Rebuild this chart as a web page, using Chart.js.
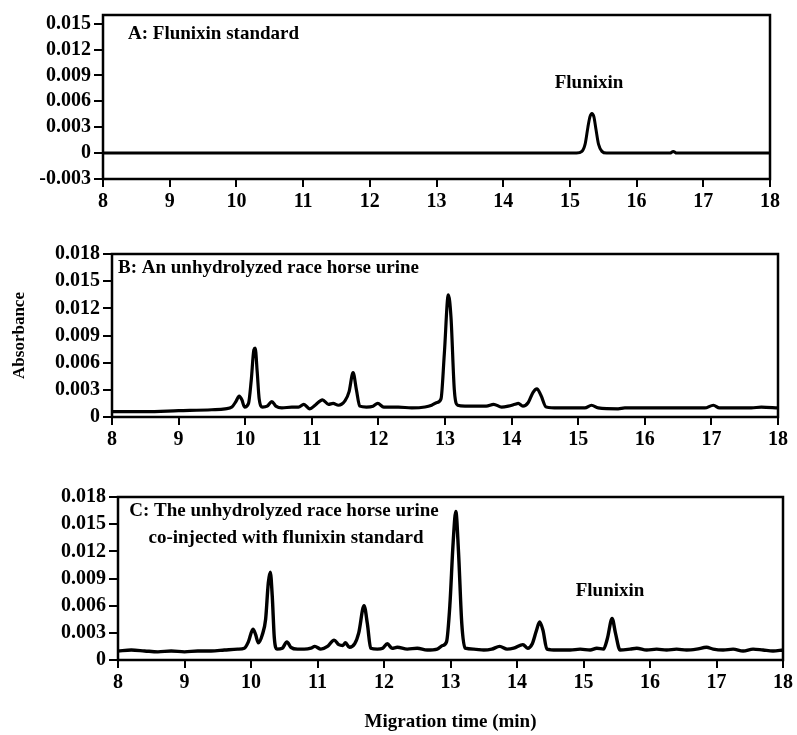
<!DOCTYPE html>
<html><head><meta charset="utf-8">
<script src="https://cdn.jsdelivr.net/npm/chart.js@4.4.0/dist/chart.umd.min.js"></script>
<style>
html,body{margin:0;padding:0;background:#fff;}
#wrap{position:relative;width:797px;height:735px;background:#fff;overflow:hidden;}
canvas{position:absolute;left:0;}
</style></head><body>
<div id="wrap">
<canvas id="cA" width="797" height="220" style="top:0px"></canvas>
<canvas id="cB" width="797" height="240" style="top:230px"></canvas>
<canvas id="cC" width="797" height="265" style="top:470px"></canvas>
</div>
<script>
// ---------- tick values / labels ----------
const xTicks = [8, 9, 10, 11, 12, 13, 14, 15, 16, 17, 18];
const yTicksA = [-0.003, 0, 0.003, 0.006, 0.009, 0.012, 0.015];
const yTickLabelsA = ['-0.003', '0', '0.003', '0.006', '0.009', '0.012', '0.015'];
const yTicksBC = [0, 0.003, 0.006, 0.009, 0.012, 0.015, 0.018];
const yTickLabelsBC = ['0', '0.003', '0.006', '0.009', '0.012', '0.015', '0.018'];

// ---------- A: Flunixin standard ----------
const timeA = [8, 9, 10, 11, 12, 13, 14, 14.8, 15.1, 15.18, 15.23, 15.27, 15.30, 15.33, 15.36, 15.39, 15.43, 15.48, 15.55, 16, 16.5, 16.55, 16.6, 17, 18];
const absA  = [0, 0, 0, 0, 0, 0, 0, 0, 0, 0.0002, 0.0011, 0.0030, 0.0042, 0.0046, 0.0042, 0.0028, 0.0010, 0.0002, 0, 0, 0, 0.0002, 0, 0, 0];

// ---------- B: unhydrolyzed race horse urine ----------
const timeB = [8.0, 8.5, 9.0, 9.5, 9.7, 9.8, 9.86, 9.91, 9.95, 9.99, 10.05, 10.09, 10.13, 10.15, 10.18, 10.21, 10.26, 10.33, 10.40, 10.46, 10.55, 10.7, 10.8, 10.88, 10.97, 11.05, 11.16, 11.25, 11.32, 11.40, 11.50, 11.56, 11.62, 11.67, 11.72, 11.82, 11.92, 11.99, 12.08, 12.3, 12.5, 12.7, 12.8, 12.88, 12.94, 12.99, 13.05, 13.09, 13.14, 13.19, 13.3, 13.5, 13.62, 13.73, 13.85, 13.95, 14.05, 14.10, 14.17, 14.25, 14.32, 14.38, 14.44, 14.52, 14.7, 14.9, 15.1, 15.2, 15.3, 15.6, 15.7, 16.0, 16.5, 16.9, 17.03, 17.12, 17.4, 17.6, 17.75, 18.0];
const absB  = [0.0006, 0.0006, 0.0007, 0.0008, 0.0009, 0.0011, 0.0017, 0.0023, 0.0019, 0.0011, 0.0015, 0.0040, 0.0074, 0.0076, 0.0050, 0.0020, 0.0011, 0.0012, 0.0017, 0.0012, 0.0010, 0.0011, 0.0011, 0.0014, 0.0009, 0.0013, 0.0019, 0.0014, 0.0015, 0.0013, 0.0018, 0.0028, 0.0049, 0.0030, 0.0012, 0.0011, 0.0012, 0.0015, 0.0011, 0.0011, 0.0010, 0.0011, 0.0013, 0.0016, 0.0020, 0.0070, 0.0135, 0.0110, 0.0030, 0.0013, 0.0012, 0.0012, 0.0012, 0.0014, 0.0011, 0.0012, 0.0014, 0.0015, 0.0012, 0.0016, 0.0027, 0.0031, 0.0024, 0.0011, 0.0010, 0.0010, 0.0010, 0.0013, 0.0010, 0.0009, 0.0010, 0.0010, 0.0010, 0.0010, 0.0013, 0.0010, 0.0010, 0.0010, 0.0011, 0.0010];

// ---------- C: urine co-injected with flunixin ----------
const timeC = [8.0, 8.2, 8.4, 8.6, 8.8, 9.0, 9.2, 9.4, 9.6, 9.8, 9.9, 9.96, 10.03, 10.07, 10.11, 10.17, 10.22, 10.26, 10.29, 10.32, 10.35, 10.39, 10.47, 10.54, 10.60, 10.7, 10.8, 10.9, 10.96, 11.05, 11.15, 11.25, 11.32, 11.38, 11.42, 11.48, 11.56, 11.62, 11.70, 11.75, 11.80, 11.9, 11.98, 12.05, 12.12, 12.2, 12.35, 12.5, 12.65, 12.8, 12.88, 12.94, 12.99, 13.04, 13.08, 13.12, 13.17, 13.22, 13.35, 13.5, 13.62, 13.74, 13.85, 13.95, 14.09, 14.16, 14.23, 14.29, 14.34, 14.39, 14.45, 14.6, 14.8, 14.95, 15.1, 15.2, 15.3, 15.36, 15.43, 15.48, 15.55, 15.7, 15.8, 15.95, 16.1, 16.25, 16.4, 16.55, 16.7, 16.85, 16.95, 17.1, 17.25, 17.4, 17.55, 17.7, 17.85, 18.0];
const absC  = [0.0010, 0.0011, 0.0010, 0.0009, 0.0010, 0.0009, 0.0010, 0.0010, 0.0011, 0.0012, 0.0013, 0.0020, 0.0034, 0.0028, 0.0019, 0.0028, 0.0045, 0.0085, 0.0097, 0.0070, 0.0025, 0.0012, 0.0013, 0.0020, 0.0014, 0.0012, 0.0012, 0.0013, 0.0015, 0.0012, 0.0015, 0.0022, 0.0017, 0.0016, 0.0019, 0.0014, 0.0018, 0.0030, 0.0060, 0.0040, 0.0013, 0.0012, 0.0013, 0.0018, 0.0013, 0.0014, 0.0012, 0.0013, 0.0011, 0.0012, 0.0016, 0.0020, 0.0060, 0.0130, 0.0164, 0.0120, 0.0040, 0.0013, 0.0012, 0.0011, 0.0012, 0.0015, 0.0012, 0.0013, 0.0017, 0.0013, 0.0018, 0.0032, 0.0042, 0.0033, 0.0012, 0.0011, 0.0011, 0.0012, 0.0011, 0.0013, 0.0012, 0.0024, 0.0046, 0.0030, 0.0011, 0.0012, 0.0013, 0.0011, 0.0012, 0.0011, 0.0012, 0.0011, 0.0012, 0.0014, 0.0012, 0.0011, 0.0012, 0.0010, 0.0012, 0.0011, 0.0010, 0.0011];

const FONT = '"Liberation Serif", "Times New Roman", serif';

const framePlugin = {
  id: 'frame',
  afterDatasetsDraw(chart) {
    const a = chart.chartArea, ctx = chart.ctx;
    ctx.save();
    ctx.strokeStyle = '#000';
    ctx.lineWidth = 2.5;
    ctx.strokeRect(a.left, a.top, a.right - a.left, a.bottom - a.top);
    ctx.restore();
  }
};
const textPlugin = {
  id: 'panelText',
  afterDraw(chart, args, opts) {
    const a = chart.chartArea, ctx = chart.ctx;
    ctx.save();
    ctx.fillStyle = '#000';
    ctx.font = 'bold 19px ' + FONT;
    ctx.textBaseline = 'middle';
    (opts.items || []).forEach(it => {
      ctx.textAlign = it.align || 'left';
      ctx.fillText(it.text, a.left + it.dx, a.top + it.dy);
    });
    ctx.restore();
  }
};

function makeChart(id, times, values, cfg) {
  const pts = times.map((t, i) => ({x: t, y: values[i]}));
  return new Chart(document.getElementById(id), {
    type: 'line',
    data: { datasets: [{
      data: pts, borderColor: '#000', borderWidth: cfg.lw, pointRadius: 0,
      fill: false, cubicInterpolationMode: 'monotone'
    }]},
    options: {
      responsive: false, animation: false, devicePixelRatio: 1,
      layout: { padding: cfg.padding },
      plugins: { legend: {display: false}, tooltip: {enabled: false},
        panelText: { items: cfg.texts } },
      scales: {
        x: {
          type: 'linear', min: 8, max: 18,
          afterBuildTicks: s => { s.ticks = xTicks.map(v => ({value: v})); },
          afterFit: s => { s.height = cfg.xHeight; },
          grid: { drawOnChartArea: false, drawTicks: true, tickLength: 8, color: '#000', lineWidth: 2 },
          border: { display: false },
          ticks: { color: '#000', padding: 3, maxRotation: 0, font: {family: FONT, size: 20, weight: 'bold'},
                   callback: v => String(v) },
          title: cfg.xTitle ? { display: true, text: cfg.xTitle, color: '#000',
                   font: {family: FONT, size: 19, weight: 'bold'}, padding: {top: 0, bottom: 2} } : {display: false}
        },
        y: {
          type: 'linear', min: cfg.ymin, max: cfg.ymax,
          afterBuildTicks: s => { s.ticks = cfg.yTicks.map(v => ({value: v})); },
          afterFit: s => { s.width = cfg.yWidth; },
          grid: { drawOnChartArea: false, drawTicks: true, tickLength: 9, color: '#000', lineWidth: 2 },
          border: { display: false },
          ticks: { color: '#000', padding: 3, font: {family: FONT, size: 20, weight: 'bold'},
                   callback: (v, i) => cfg.yLabels[i] },
          title: cfg.yTitle ? { display: true, text: cfg.yTitle, color: '#000',
                   font: {family: FONT, size: 17, weight: 'bold'}, padding: {top: 9, bottom: 0} } : {display: false}
        }
      }
    },
    plugins: [framePlugin, textPlugin]
  });
}

makeChart('cA', timeA, absA, {
  lw: 3, padding: {left: 0, top: 15, right: 27, bottom: 0}, xHeight: 41, yWidth: 103,
  ymin: -0.003, ymax: 0.016, yTicks: yTicksA, yLabels: yTickLabelsA,
  texts: [
    {text: 'A: Flunixin standard', dx: 25, dy: 19},
    {text: 'Flunixin', dx: 486, dy: 68, align: 'center'}
  ]
});
makeChart('cB', timeB, absB, {
  lw: 3.2, padding: {left: 0, top: 24, right: 19, bottom: 0}, xHeight: 53, yWidth: 112,
  ymin: 0, ymax: 0.018, yTicks: yTicksBC, yLabels: yTickLabelsBC, yTitle: 'Absorbance',
  texts: [
    {text: 'B: An unhydrolyzed race horse urine', dx: 6, dy: 14}
  ]
});
makeChart('cC', timeC, absC, {
  lw: 3.4, padding: {left: 0, top: 27, right: 14, bottom: 0}, xHeight: 75, yWidth: 118,
  ymin: 0, ymax: 0.018, yTicks: yTicksBC, yLabels: yTickLabelsBC, xTitle: 'Migration time (min)',
  texts: [
    {text: 'C: The unhydrolyzed race horse urine', dx: 166, dy: 14, align: 'center'},
    {text: 'co-injected with flunixin standard', dx: 168, dy: 41, align: 'center'},
    {text: 'Flunixin', dx: 492, dy: 94, align: 'center'}
  ]
});
</script>
</body></html>
